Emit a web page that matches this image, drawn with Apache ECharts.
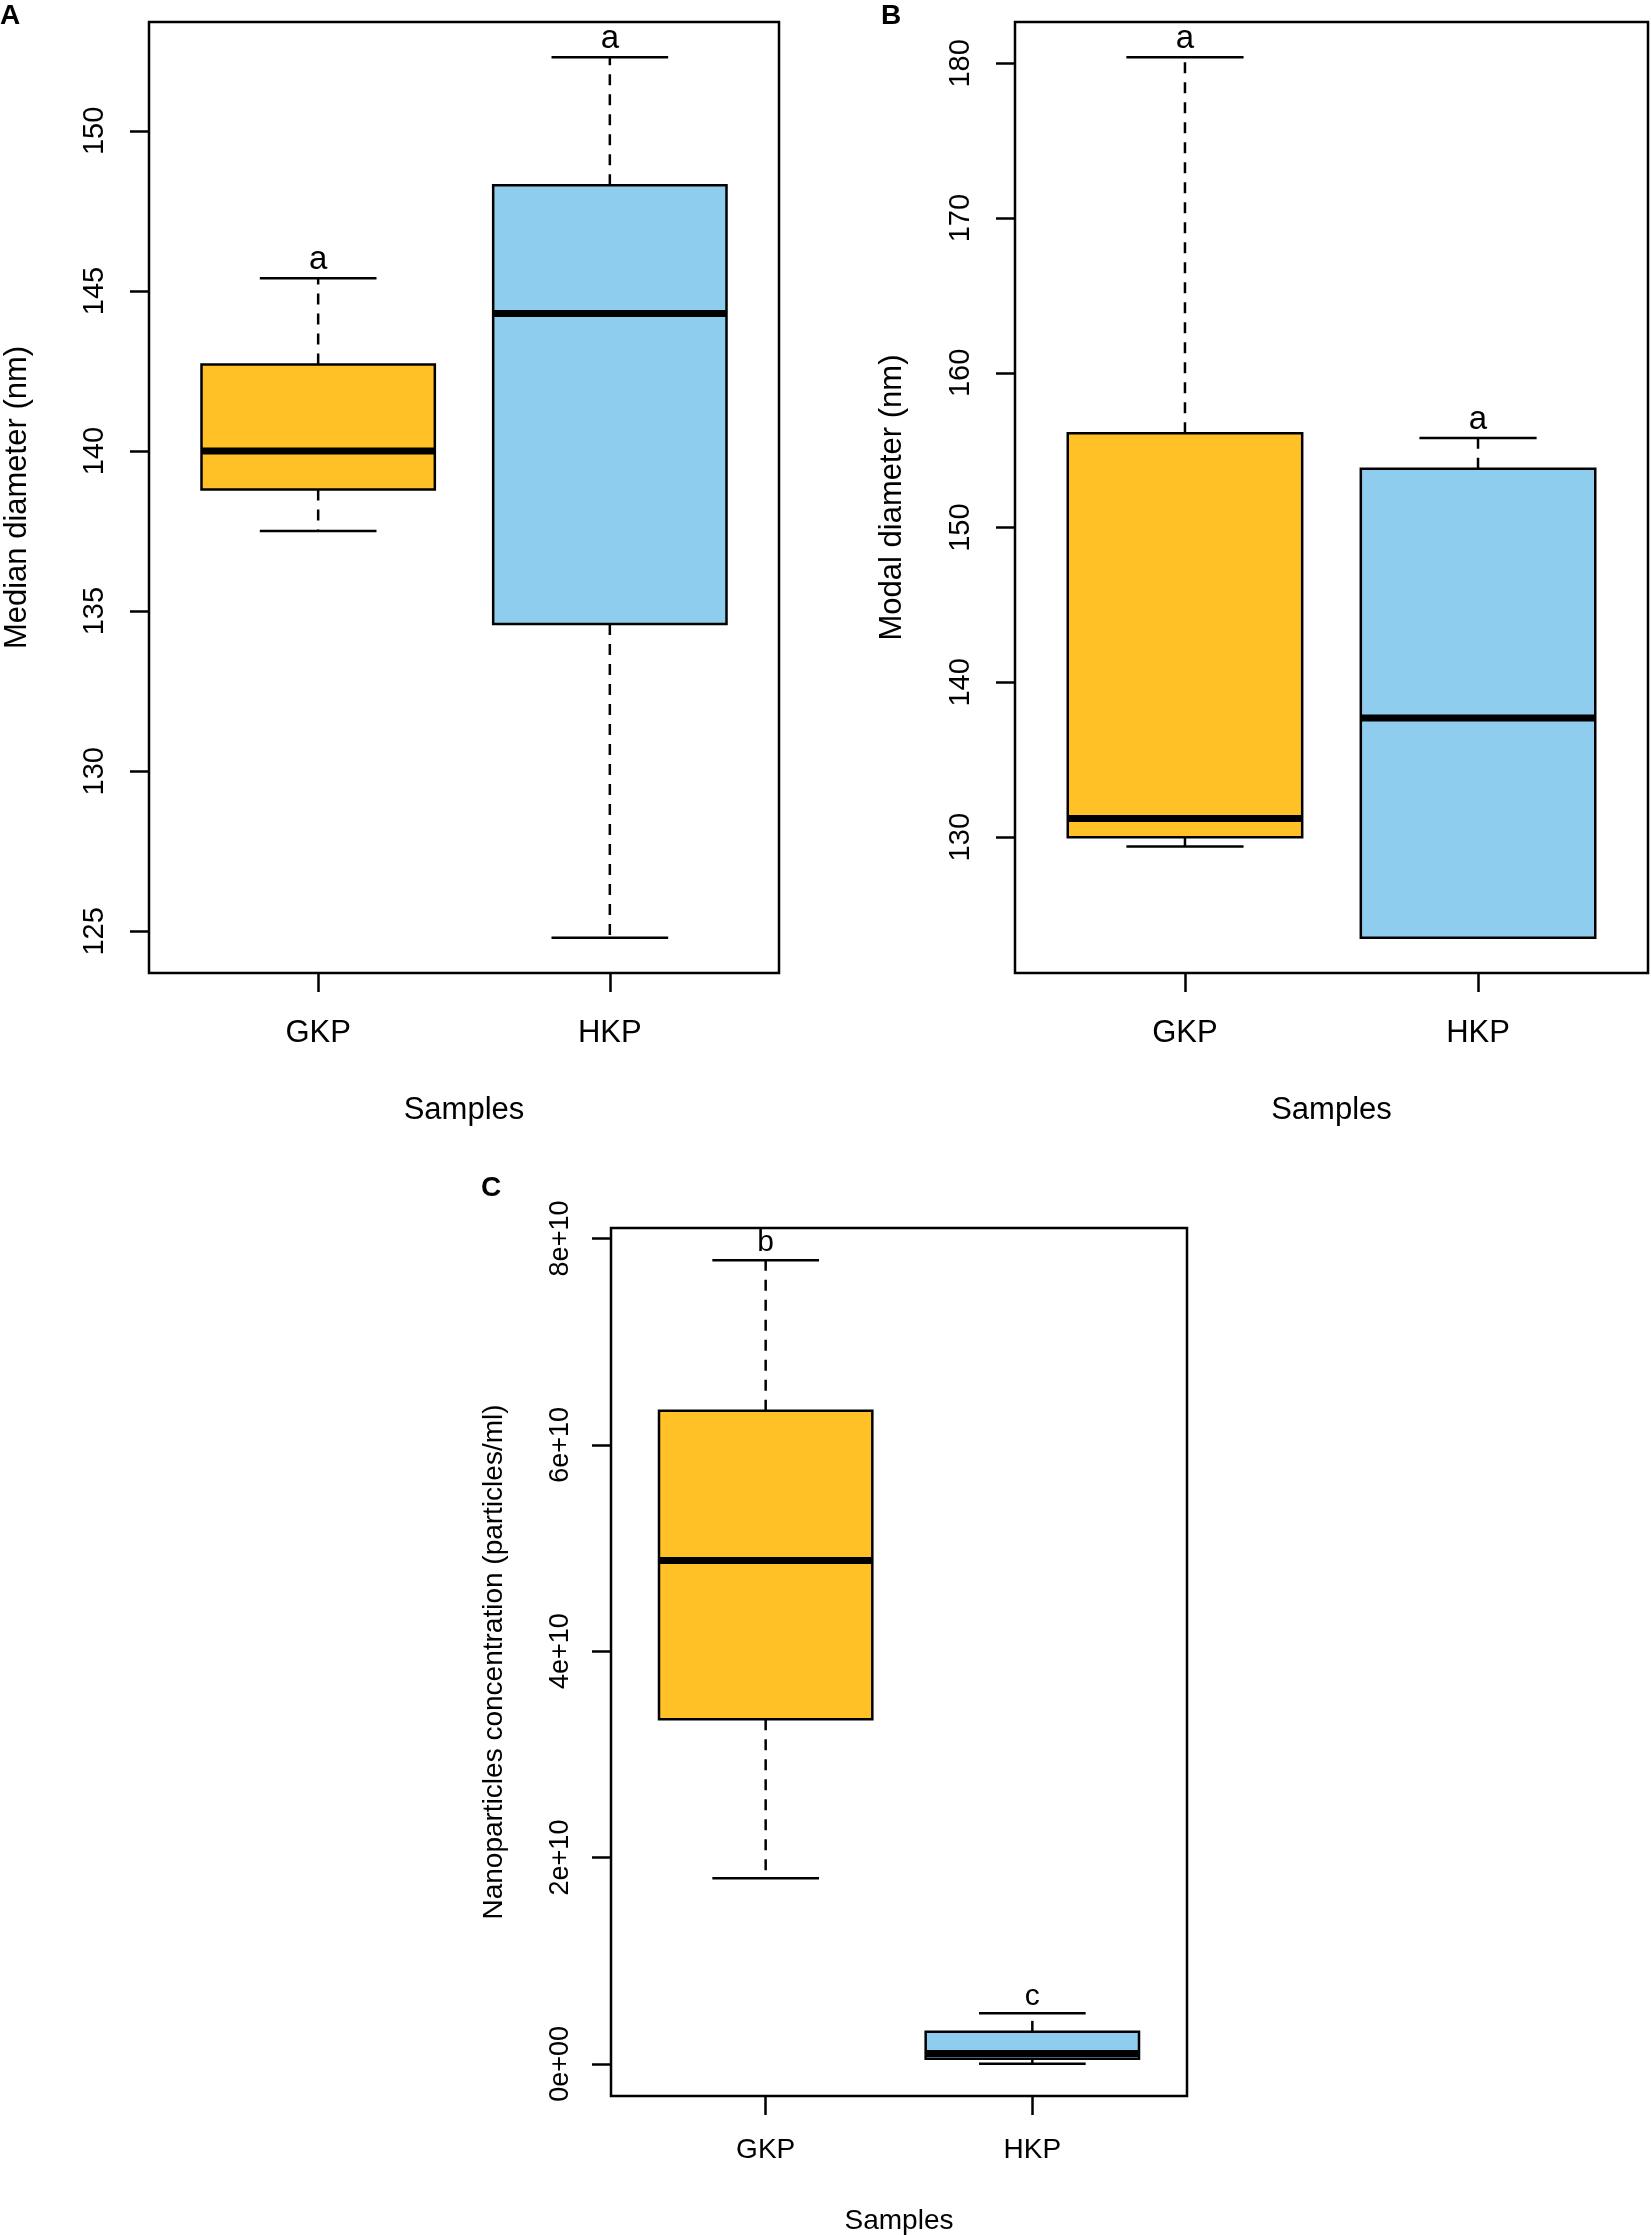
<!DOCTYPE html>
<html>
<head>
<meta charset="utf-8">
<script src="https://cdn.jsdelivr.net/npm/echarts@6/dist/echarts.min.js"></script>
<style>
  html, body { margin: 0; padding: 0; background: #fff; }
  #main { width: 1651px; height: 2235px; }
</style>
</head>
<body>
<div id="main"></div>
<script>
// samples on the x axis
var categories = ['GKP', 'HKP'];
var boxColors = ['#FFC125', '#8FCDEF'];

// each box: [lower whisker, Q1, median, Q3, upper whisker]
var medianGKP = [137.5, 138.8, 140.0, 142.7, 145.4];
var medianHKP = [124.8, 134.6, 144.3, 148.3, 152.3];
var medianLetters = ['a', 'a'];
var medianTicks = [125, 130, 135, 140, 145, 150];

var modalGKP = [129.4, 130.0, 131.2, 156.1, 180.4];
var modalHKP = [123.5, 123.5, 137.7, 153.8, 155.8];
var modalLetters = ['a', 'a'];
var modalTicks = [130, 140, 150, 160, 170, 180];

var concGKP = [1.80e10, 3.34e10, 4.88e10, 6.33e10, 7.79e10];
var concHKP = [0.00e10, 0.05e10, 0.10e10, 0.31e10, 0.49e10];
var concLetters = ['b', 'c'];
var concTicks = [0, 2e10, 4e10, 6e10, 8e10];

var FONT = 'Liberation Sans, Arial, sans-serif';

// R style range: data extent padded by 4%
function rRange(a, b) {
    var lo = Math.min(a[0], b[0]), hi = Math.max(a[4], b[4]);
    var pad = (hi - lo) * 0.04;
    return [lo - pad, hi + pad];
}

function sci(v) {
    return v.toExponential(0).replace(/e([+-])(\d)$/, 'e$10$2');
}

function makeRender(letters, letterSize) {
    return function (params, api) {
        var x = api.value(0);
        var pLo = api.coord([x, api.value(1)]);
        var pQ1 = api.coord([x, api.value(2)]);
        var pMd = api.coord([x, api.value(3)]);
        var pQ3 = api.coord([x, api.value(4)]);
        var pHi = api.coord([x, api.value(5)]);
        var half = api.size([0.4, 0])[0];
        var cap = api.size([0.2, 0])[0];
        var cx = pMd[0];
        var dash = {stroke: '#000', lineWidth: 2.5, lineDash: [11, 9]};
        var solid = {stroke: '#000', lineWidth: 2.5};
        return {
            type: 'group',
            children: [
                {type: 'line', shape: {x1: cx, y1: pQ3[1], x2: cx, y2: pHi[1]}, style: dash},
                {type: 'line', shape: {x1: cx, y1: pQ1[1], x2: cx, y2: pLo[1]}, style: dash},
                {type: 'line', shape: {x1: cx - cap, y1: pHi[1], x2: cx + cap, y2: pHi[1]}, style: solid},
                {type: 'line', shape: {x1: cx - cap, y1: pLo[1], x2: cx + cap, y2: pLo[1]}, style: solid},
                {type: 'rect', shape: {x: cx - half, y: pQ3[1], width: half * 2, height: pQ1[1] - pQ3[1]},
                    style: {fill: boxColors[params.dataIndex], stroke: '#000', lineWidth: 2.5}},
                {type: 'line', shape: {x1: cx - half, y1: pMd[1], x2: cx + half, y2: pMd[1]},
                    style: {stroke: '#000', lineWidth: 7}},
                {type: 'text', x: cx, y: pHi[1] - 2,
                    style: {text: letters[params.dataIndex], fill: '#000', font: letterSize + 'px ' + FONT,
                        textAlign: 'center', textVerticalAlign: 'bottom'}}
            ]
        };
    };
}

function xAxisFor(idx, fs, margin, gap) {
    return {
        gridIndex: idx, type: 'value', min: 0.42, max: 2.58,
        name: 'Samples', nameLocation: 'middle', nameGap: gap,
        nameTextStyle: {fontFamily: FONT, fontSize: fs, color: '#000'},
        axisLine: {show: false, onZero: false}, splitLine: {show: false},
        axisTick: {show: true, length: 19, customValues: [1, 2], lineStyle: {color: '#000', width: 2.5}},
        axisLabel: {customValues: [1, 2], margin: margin, fontFamily: FONT, fontSize: fs, color: '#000',
            formatter: function (v) { return categories[Math.round(v) - 1]; }}
    };
}

function yAxisFor(idx, range, ticks, title, fs, tfs, margin, gap, fmt) {
    return {
        gridIndex: idx, type: 'value', min: range[0], max: range[1],
        name: title, nameLocation: 'middle', nameGap: gap, nameRotate: 90,
        nameTextStyle: {fontFamily: FONT, fontSize: fs, color: '#000'},
        axisLine: {show: false, onZero: false}, splitLine: {show: false},
        axisTick: {show: true, length: 19, customValues: ticks, lineStyle: {color: '#000', width: 2.5}},
        axisLabel: {customValues: ticks, rotate: 90, margin: margin, fontFamily: FONT, fontSize: tfs, color: '#000',
            formatter: fmt || function (v) { return String(v); }}
    };
}

var gridStyle = {show: true, borderColor: '#000', borderWidth: 2.5, backgroundColor: '#fff', containLabel: false, outerBoundsMode: 'none'};

var chart = echarts.init(document.getElementById('main'), null, {renderer: 'canvas'});
chart.setOption({
    backgroundColor: '#fff',
    animation: false,
    grid: [
        Object.assign({left: 149, top: 22, width: 630, height: 951}, gridStyle),
        Object.assign({left: 1015, top: 22, width: 633, height: 951}, gridStyle),
        Object.assign({left: 611, top: 1228, width: 576, height: 868}, gridStyle)
    ],
    xAxis: [
        xAxisFor(0, 31, 45, 122),
        xAxisFor(1, 31, 45, 122),
        xAxisFor(2, 28, 40, 111)
    ],
    yAxis: [
        yAxisFor(0, rRange(medianGKP, medianHKP), medianTicks, 'Median diameter (nm)', 31, 29, 40, 116),
        yAxisFor(1, rRange(modalGKP, modalHKP), modalTicks, 'Modal diameter (nm)', 31, 29, 40, 107),
        yAxisFor(2, rRange(concGKP, concHKP), concTicks, 'Nanoparticles concentration (particles/ml)', 28, 27, 37, 103, sci)
    ],
    graphic: [
        {type: 'text', left: 0, top: 2, style: {text: 'A', font: 'bold 28px ' + FONT, fill: '#000'}},
        {type: 'text', left: 881, top: 2, style: {text: 'B', font: 'bold 28px ' + FONT, fill: '#000'}},
        {type: 'text', left: 481, top: 1174, style: {text: 'C', font: 'bold 28px ' + FONT, fill: '#000'}}
    ],
    series: [
        {type: 'custom', xAxisIndex: 0, yAxisIndex: 0, clip: false, renderItem: makeRender(medianLetters, 33),
            data: [[1].concat(medianGKP), [2].concat(medianHKP)]},
        {type: 'custom', xAxisIndex: 1, yAxisIndex: 1, clip: false, renderItem: makeRender(modalLetters, 33),
            data: [[1].concat(modalGKP), [2].concat(modalHKP)]},
        {type: 'custom', xAxisIndex: 2, yAxisIndex: 2, clip: false, renderItem: makeRender(concLetters, 30),
            data: [[1].concat(concGKP), [2].concat(concHKP)]}
    ]
});
</script>
</body>
</html>
